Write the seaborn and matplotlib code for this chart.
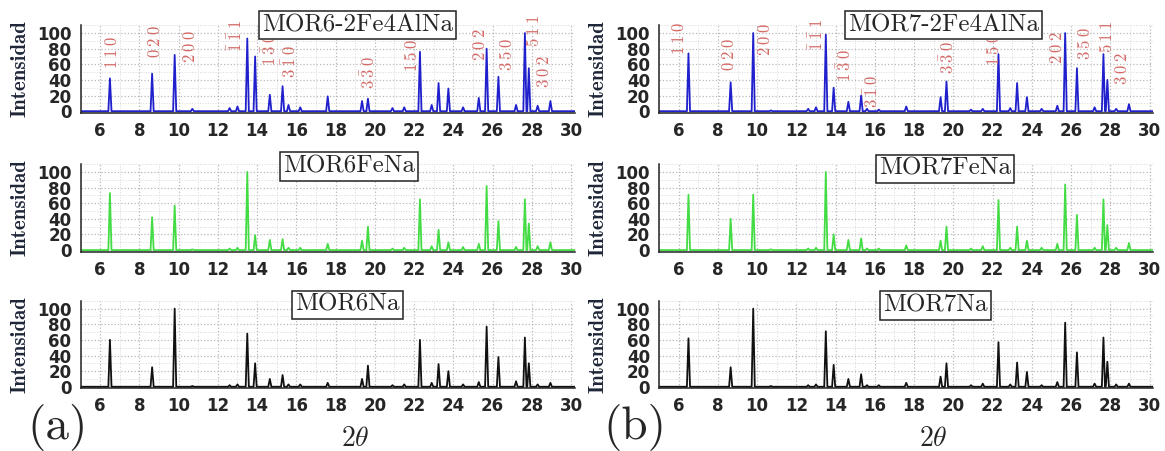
import matplotlib
matplotlib.use("Agg")
import matplotlib.pyplot as plt
import seaborn as sns
import pandas as pd
from matplotlib.ticker import MultipleLocator

# Peak positions (2 theta) shared by all six mordenite patterns
peak_pos = [6.5, 8.65, 9.8, 10.7, 12.6, 13.0, 13.5, 13.9, 14.65, 15.3,
            15.6, 16.2, 17.6, 19.35, 19.65, 20.9, 21.5, 22.3, 22.9, 23.25,
            23.75, 24.5, 25.3, 25.7, 26.3, 27.2, 27.65, 27.85, 28.3, 28.95]

# Relative intensities, one list per sample
mor6_2fe4al = [42, 48, 72, 3, 4, 6, 93, 70, 21, 32, 8, 5, 19, 13, 16,
               4, 5, 76, 8, 36, 29, 5, 17, 80, 44, 8, 100, 55, 7, 13]
mor6_fe = [73, 42, 57, 1, 2, 3, 100, 19, 13, 14, 3, 3, 8, 12, 30,
           2, 3, 65, 5, 26, 10, 4, 8, 82, 37, 4, 65, 34, 5, 10]
mor6_na = [60, 25, 100, 1, 2, 3, 68, 30, 10, 15, 3, 3, 5, 10, 27,
           2, 3, 60, 5, 29, 20, 3, 6, 77, 38, 7, 63, 30, 3, 5]
mor7_2fe4al = [74, 37, 100, 1, 3, 5, 98, 30, 12, 20, 3, 2, 6, 18, 38,
               2, 3, 73, 4, 36, 18, 3, 7, 100, 55, 5, 73, 40, 3, 9]
mor7_fe = [71, 40, 71, 1, 2, 3, 100, 20, 13, 15, 2, 2, 6, 12, 30,
           2, 5, 64, 3, 30, 12, 3, 8, 84, 45, 3, 65, 32, 3, 9]
mor7_na = [62, 25, 100, 1, 2, 3, 71, 28, 10, 16, 2, 2, 5, 13, 30,
           2, 4, 57, 3, 31, 19, 2, 6, 82, 44, 4, 63, 32, 3, 4]

sample_names = ["MOR6-2Fe4AlNa", "MOR6FeNa", "MOR6Na",
                "MOR7-2Fe4AlNa", "MOR7FeNa", "MOR7Na"]

# Miller indices marked on the top patterns
hkl_labels = [r"$1\:1\:0$", r"$0\:2\:0$", r"$2\:0\:0$", r"$\bar{1}\:\bar{1}\:1$",
              r"$1\:\bar{3}\:0$", r"$3\:\bar{1}\:0$", r"$3\:\bar{3}\:0$", r"$1\:5\:0$",
              r"$2\:0\:2$", r"$3\:5\:0$", r"$5\:1\:1$", r"$3\:0\:2$"]
hkl_xy_left = [(6.6, 54), (8.8, 68), (10.6, 62), (12.98, 76), (14.67, 58), (15.7, 43),
               (19.72, 28), (21.9, 50), (25.38, 64), (26.76, 52), (28.1, 82), (28.6, 30)]
hkl_xy_right = [(6.0, 72), (8.56, 52), (10.39, 71), (13.1, 77), (14.5, 38), (15.9, 4),
                (19.76, 47), (22.05, 58), (25.3, 60), (26.73, 65), (27.85, 74), (28.6, 33)]

sns.set_style("white")
plt.rcParams.update({
    "font.family": ["DejaVu Sans"],
    "mathtext.fontset": "cm",
})


def profile(heights, half_width=0.08):
    """Turn a stick pattern into a narrow-peak line profile."""
    xs, ys = [5.0], [0.0]
    for p, h in zip(peak_pos, heights):
        xs += [p - half_width, p, p + half_width]
        ys += [0.0, h, 0.0]
    xs.append(30.2)
    ys.append(0.0)
    return pd.DataFrame({"two_theta": xs, "intensity": ys})


fig = plt.figure(figsize=(11.65, 4.51), dpi=100)

ax_w, ax_h = 0.4244, 0.194
lefts = [0.0691, 0.5657]
bottoms = [0.750, 0.442, 0.139]
colors = ["#2020cc", "#44dc44", "#111111"]
series = [[mor6_2fe4al, mor6_fe, mor6_na], [mor7_2fe4al, mor7_fe, mor7_na]]
title_xy = [[(19.1, 110), (18.7, 107), (18.6, 105)],
            [(19.5, 110), (19.6, 104), (19.1, 104)]]

for col in range(2):
    for row in range(3):
        ax = fig.add_axes([lefts[col], bottoms[row], ax_w, ax_h])
        df = profile(series[col][row])
        sns.lineplot(data=df, x="two_theta", y="intensity", ax=ax, sort=False,
                     estimator=None, color=colors[row], lw=1.3)
        ax.set_xlim(5, 30.2)
        ax.set_ylim(-2, 110)
        ax.xaxis.set_minor_locator(MultipleLocator(1))
        ax.yaxis.set_minor_locator(MultipleLocator(10))
        ax.set_xticks(range(6, 31, 2))
        ax.set_yticks(range(0, 101, 20))
        ax.tick_params(which="major", direction="inout", length=7, width=1.1,
                       labelsize=12, pad=3)
        ax.tick_params(which="minor", direction="inout", length=4, width=1)
        for lab in ax.get_xticklabels() + ax.get_yticklabels():
            lab.set_fontweight("bold")
        ax.grid(which="major", ls=":", color="#b8b8b8", lw=0.9)
        ax.grid(which="minor", ls=":", color="#d8d8d8", lw=0.7)
        sns.despine(ax=ax)
        for sp in ["left", "bottom"]:
            ax.spines[sp].set_linewidth(1.1)
            ax.spines[sp].set_color("#222222")
        ax.set_xlabel("")
        ax.set_ylabel("Intensidad", fontfamily="cmb10", fontsize=15, color="#1e2638")
        ax.yaxis.set_label_coords(-0.104, 0.5)

        tx, ty = title_xy[col][row]
        ax.text(tx, ty, sample_names[col * 3 + row], fontfamily="cmr10", fontsize=18,
                ha="center", va="center", clip_on=False, zorder=5,
                bbox=dict(boxstyle="square,pad=0.12", fc="white", ec="#222222", lw=1.1))

        if row == 0:
            hkl_xy = hkl_xy_left if col == 0 else hkl_xy_right
            for lab, (hx, hy) in zip(hkl_labels, hkl_xy):
                ax.text(hx, hy, lab, rotation=90, ha="center", va="bottom",
                        fontsize=12, color="#d46a66")

fig.text(0.305, 0.029, r"$2\theta$", fontsize=20, ha="center", va="center")
fig.text(0.801, 0.029, r"$2\theta$", fontsize=20, ha="center", va="center")
fig.text(0.049, 0.051, "(a)", fontfamily="cmr10", fontsize=34, ha="center", va="center")
fig.text(0.545, 0.051, "(b)", fontfamily="cmr10", fontsize=34, ha="center", va="center")

fig.savefig("out.png", dpi=100)
